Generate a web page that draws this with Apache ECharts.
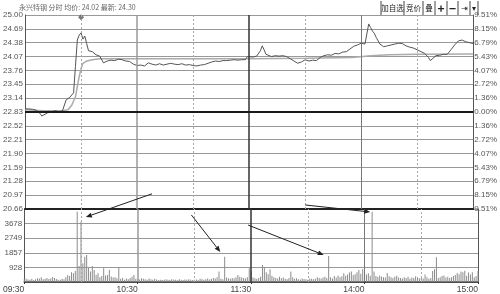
<!DOCTYPE html>
<html><head><meta charset="utf-8">
<script src="https://cdn.jsdelivr.net/npm/echarts/dist/echarts.min.js"></script>
<style>html,body{margin:0;padding:0;background:#fff}#c{width:500px;height:294px}</style>
</head><body><div id="c"></div>
<script>
// ---------- data ----------
const stockName = '永兴特钢';
const avgPrice = '24.02';
const lastPrice = '24.30';
const prevClose = 22.83;
const timeLabels = ['09:30', '10:30', '11:30', '14:00', '15:00'];
const priceLabels = ['20.66','20.97','21.28','21.59','21.90','22.21','22.52','22.83','23.14','23.45','23.76','24.07','24.38','24.69','25.00'];
const pctLabels = ['9.51%','8.15%','6.79%','5.43%','4.07%','2.72%','1.36%','0.00%','1.36%','2.72%','4.07%','5.43%','6.79%','8.15%','9.51%'];
const volLabels = ['', '928', '1857', '2749', '3678', ''];
// minute index (0..240) , price
const priceMinutes = [0,2,4,6,8,9,10,12,14,16,18,20,21,22,23,24,25,26,27,28,29,30,31,32,33,34,35,36,37,38,39,40,42,44,46,48,50,52,54,56,58,60,61,62,64,66,68,70,72,74,76,78,80,82,84,86,88,90,92,94,96,98,100,102,104,106,108,110,112,114,116,118,119,120,122,124,126,127,128,129,130,132,134,136,138,140,142,144,146,148,150,152,154,156,158,160,162,164,166,168,170,172,174,176,178,180,182,183,184,185,186,187,188,190,192,194,196,198,200,202,204,206,208,210,212,214,216,217,218,220,222,224,226,228,230,232,233,234,236,238,240];
const priceValues = [22.90,22.90,22.89,22.87,22.80,22.74,22.78,22.81,22.83,22.86,22.84,22.85,22.86,23.10,23.14,23.16,23.20,23.26,23.85,24.44,24.55,24.60,24.46,24.53,24.36,24.20,24.17,24.18,24.14,24.11,24.12,24.08,23.93,23.97,23.99,23.98,24.01,24.00,23.97,23.96,23.90,23.87,23.84,23.88,23.86,23.93,23.90,23.88,23.91,23.88,23.90,23.92,23.90,23.89,23.91,23.88,23.89,23.87,23.86,23.88,23.89,23.92,23.95,23.97,23.96,23.98,23.98,23.99,24.00,23.99,24.00,24.00,24.07,24.07,24.06,24.08,24.20,24.31,24.22,24.12,24.08,24.07,24.09,24.08,24.09,24.07,24.02,23.97,23.92,23.95,24.00,23.97,23.99,23.98,24.05,24.09,24.11,24.10,24.14,24.13,24.17,24.18,24.24,24.30,24.33,24.37,24.35,24.33,24.80,24.72,24.64,24.59,24.50,24.35,24.29,24.31,24.33,24.35,24.37,24.36,24.31,24.28,24.26,24.22,24.18,24.14,24.05,23.98,24.02,24.09,24.10,24.12,24.12,24.22,24.33,24.42,24.46,24.44,24.40,24.38,24.36];
const avgMinutes = [0,10,20,23,25,27,28,29,30,31,33,36,40,120,150,175,185,195,210,240];
const avgValues = [22.88,22.86,22.86,22.88,22.98,23.17,23.40,23.62,23.80,23.92,23.97,24.00,24.02,24.02,24.03,24.05,24.09,24.11,24.12,24.13];
const volumes = [
 180,200,160,150,210,130,170,240,220,300,
 180,210,260,190,230,320,250,190,150,140,
 210,180,300,440,380,620,560,700,4470,1020,
 3830,1190,1610,1720,890,660,1020,760,450,550,
 300,380,870,420,450,760,350,280,300,240,
 930,200,260,150,220,180,260,330,450,200,
 180,160,240,200,170,150,220,180,140,200,
 160,130,150,120,140,170,150,130,180,160,
 140,120,170,150,130,160,140,180,150,120,
 140,160,130,200,170,150,180,220,160,190,
 250,230,300,660,200,180,1600,280,240,200,
 260,220,300,450,330,280,250,220,300,880,
 700,280,240,200,260,330,1080,930,620,500,
 810,400,300,260,220,330,240,280,200,180,
 250,660,300,200,240,180,160,220,190,170,
 150,230,200,180,210,300,260,220,280,330,
 250,1650,300,220,380,280,420,300,360,550,
 400,480,600,660,440,500,620,760,520,810,
 700,480,560,400,4470,660,380,320,420,350,
 300,280,580,360,300,250,330,400,280,260,
 230,300,260,340,200,280,250,360,300,240,
 260,220,480,300,200,260,700,810,1570,260,
 300,380,420,280,340,260,300,380,450,580,
 500,660,620,720,400,600,480,620,300,380,
 700];
const highMarker = [[30, 24.95]];
// annotation arrows: [panel, [minute, value]] -> [panel, [minute, value]]
const arrows = [
 [[0, [68, 21.00]], [1, [32.6, 4130]]],
 [[1, [88.4, 4260]], [1, [103.7, 1910]]],
 [[1, [118.4, 3620]], [1, [158.4, 1720]]],
 [[0, [150, 20.75]], [1, [183, 4450]]]
];

// ---------- chart ----------
const pricePts = priceMinutes.map((m, i) => [m, priceValues[i]]);
const avgPts = avgMinutes.map((m, i) => [m, avgValues[i]]);
const volPts = volumes.map((v, i) => [i, v]);
const pMin = +priceLabels[0], pMax = +priceLabels[priceLabels.length - 1];
const pStep = +(priceLabels[1] - priceLabels[0]).toFixed(2);
const vStep = +volLabels[1], vMax = vStep * (volLabels.length - 1);
const font = '"Liberation Sans", Arial, sans-serif';
const lblStyle = {fontSize: 8, color: '#555', fontFamily: font};

const vLines = [
  {xAxis: 30, lineStyle: {type: [2, 2], color: '#aaa', width: 1}},
  {xAxis: 60, lineStyle: {type: 'solid', color: '#9a9a9a', width: 1.5}},
  {xAxis: 90, lineStyle: {type: [2, 2], color: '#aaa', width: 1}},
  {xAxis: 120, lineStyle: {type: 'solid', color: '#333', width: 1.5}},
  {xAxis: 150, lineStyle: {type: [2, 2], color: '#aaa', width: 1}},
  {xAxis: 180, lineStyle: {type: 'solid', color: '#777', width: 1}},
  {xAxis: 210, lineStyle: {type: [2, 2], color: '#aaa', width: 1}}
];

const chart = echarts.init(document.getElementById('c'), null, {renderer: 'canvas'});
const option = {
  animation: false,
  backgroundColor: '#fff',
  grid: [
    {left: 20, right: 22, top: 15, height: 194},
    {left: 20, right: 22, top: 209, height: 73}
  ],
  xAxis: [
    {gridIndex: 0, type: 'value', min: 0, max: 240, interval: 30,
     axisLine: {show: true, onZero: false, lineStyle: {color: '#222', width: 2}},
     axisTick: {show: false}, axisLabel: {show: false}, splitLine: {show: false}},
    {gridIndex: 1, type: 'value', min: 0, max: 240, interval: 60,
     axisLine: {show: true, onZero: false, lineStyle: {color: '#333', width: 1.5}},
     axisTick: {show: true, length: 2, lineStyle: {color: '#333'}},
     axisLabel: {formatter: v => timeLabels[Math.round(v / 60)], align: 'right', margin: 3,
                 fontSize: 8.5, color: '#444', fontFamily: font},
     splitLine: {show: false}}
  ],
  yAxis: [
    {gridIndex: 0, type: 'value', min: pMin, max: pMax, interval: pStep, position: 'left',
     axisLine: {show: true, lineStyle: {color: '#555'}}, axisTick: {show: false},
     axisLabel: Object.assign({margin: 2, formatter: v => priceLabels[Math.round((v - pMin) / pStep)]}, lblStyle),
     splitLine: {show: true, lineStyle: {color: '#999', width: 1}}},
    {gridIndex: 0, type: 'value', min: pMin, max: pMax, interval: pStep, position: 'right',
     axisLine: {show: true, lineStyle: {color: '#555'}}, axisTick: {show: false},
     axisLabel: Object.assign({margin: 1, formatter: v => pctLabels[Math.round((v - pMin) / pStep)]}, lblStyle),
     splitLine: {show: false}},
    {gridIndex: 1, type: 'value', min: 0, max: vMax, interval: vStep, position: 'left',
     axisLine: {show: true, lineStyle: {color: '#555'}}, axisTick: {show: false},
     axisLabel: Object.assign({margin: 2, formatter: v => volLabels[Math.round(v / vStep)]}, lblStyle),
     splitLine: {show: true, lineStyle: {color: '#999', width: 1}}},
    {gridIndex: 1, type: 'value', min: 0, max: vMax, interval: vStep, position: 'right',
     axisLine: {show: true, lineStyle: {color: '#555'}}, axisTick: {show: false},
     axisLabel: {show: false}, splitLine: {show: false}}
  ],
  series: [
    {type: 'line', xAxisIndex: 0, yAxisIndex: 0, data: avgPts, showSymbol: false, z: 2,
     lineStyle: {color: '#ababab', width: 1.5},
     markLine: {silent: true, symbol: 'none', label: {show: false},
       data: vLines.concat([{yAxis: prevClose, lineStyle: {type: 'solid', color: '#1a1a1a', width: 2}}])}},
    {type: 'line', xAxisIndex: 0, yAxisIndex: 0, data: pricePts, showSymbol: false, z: 3,
     lineStyle: {color: '#555', width: 1}},
    {type: 'scatter', xAxisIndex: 0, yAxisIndex: 0, data: highMarker, symbol: 'diamond', symbolSize: 6, z: 4,
     itemStyle: {color: '#555'}},
    {type: 'bar', xAxisIndex: 1, yAxisIndex: 2, data: volPts, barWidth: 1, z: 3,
     itemStyle: {color: '#8c8c8c'},
     markLine: {silent: true, symbol: 'none', label: {show: false}, data: vLines}}
  ]
};
chart.setOption(option);

// ---------- decorations ----------
const g = [];
g.push({type: 'text', left: 19, top: 4, z: 10,
  style: {text: stockName + ' 分时 均价: ' + avgPrice + ' 最新: ' + lastPrice,
          font: '7px "Noto Sans CJK SC", sans-serif', fill: '#666'}});
const btnSeps = [381, 404, 423, 435, 447, 458, 470, 478];
const btnTexts = ['加自选', '竞价', '叠', '+', '−', '⇥', '▾'];
btnSeps.forEach(x => g.push({type: 'line', shape: {x1: x, y1: 1, x2: x, y2: 15}, style: {stroke: '#444', lineWidth: 1}, z: 10}));
btnTexts.forEach((t, i) => {
  const cx = (btnSeps[i] + btnSeps[i + 1]) / 2;
  const big = (t === '+' || t === '−');
  g.push({type: 'text', x: cx, y: 8, z: 10,
    style: {text: t, align: 'center', verticalAlign: 'middle',
      font: (big ? 'bold 12px ' : '7.5px ') + '"Noto Sans CJK SC", sans-serif', fill: '#222'}});
});
const toPx = (p) => chart.convertToPixel({xAxisIndex: p[0], yAxisIndex: p[0] === 0 ? 0 : 2}, p[1]);
arrows.forEach(a => {
  const s = toPx(a[0]), t = toPx(a[1]);
  const dx = t[0] - s[0], dy = t[1] - s[1], L = Math.hypot(dx, dy);
  const ux = dx / L, uy = dy / L, hl = 6, hw = 2.5;
  const bx = t[0] - ux * hl, by = t[1] - uy * hl;
  g.push({type: 'line', z: 10, shape: {x1: s[0], y1: s[1], x2: bx, y2: by}, style: {stroke: '#222', lineWidth: 1}});
  g.push({type: 'polygon', z: 10, shape: {points: [[t[0], t[1]], [bx - uy * hw, by + ux * hw], [bx + uy * hw, by - ux * hw]]},
    style: {fill: '#222'}});
});
chart.setOption({graphic: g});
</script>
</body></html>
